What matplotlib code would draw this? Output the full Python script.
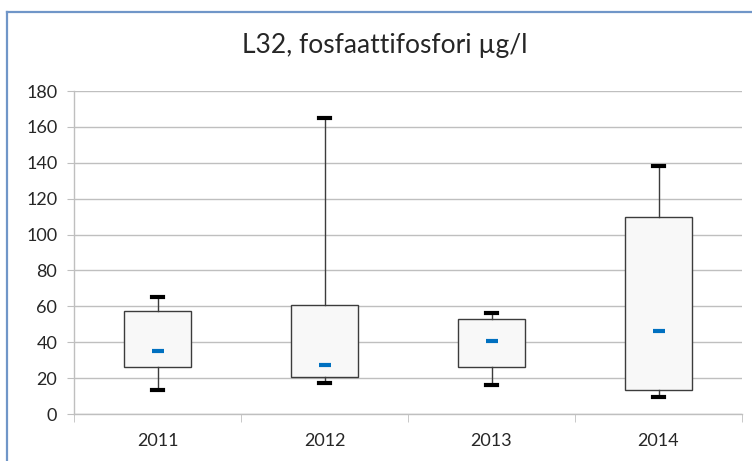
import matplotlib.pyplot as plt
from matplotlib.lines import Line2D

# Yearly phosphate-phosphorus statistics (µg/l)
years = ['2011', '2012', '2013', '2014']
minimum = [13.3, 17.2, 16.3, 9.6]
lower_quartile = [26.1, 20.6, 26.1, 13.3]
median = [35.2, 27.4, 40.9, 46.5]
upper_quartile = [57.4, 60.7, 53.0, 109.6]
maximum = [65.0, 165.0, 56.1, 138.0]

plt.rcParams['font.family'] = ['Lato', 'DejaVu Sans']

W, H = 752, 461
fig = plt.figure(figsize=(W / 100, H / 100), dpi=100)
ax = fig.add_axes([74 / W, 47 / H, (742 - 74) / W, 323 / H])

stats = []
for i in range(len(years)):
    stats.append({'label': years[i], 'whislo': minimum[i], 'q1': lower_quartile[i],
                  'med': median[i], 'q3': upper_quartile[i], 'whishi': maximum[i]})

positions = list(range(1, len(years) + 1))
ax.bxp(stats, positions=positions, widths=0.4, capwidths=0.07, showfliers=False,
       patch_artist=True,
       boxprops=dict(facecolor='#f8f8f8', edgecolor='#3c3c3c', linewidth=1.0),
       whiskerprops=dict(color='#3c3c3c', linewidth=1.0),
       capprops=dict(color='black', linewidth=3.0, solid_capstyle='projecting'),
       medianprops=dict(visible=False), zorder=3)

# median shown as a short blue dash
ax.plot(positions, median, linestyle='none', marker='_', markersize=8.5,
        markeredgewidth=3.0, color='#0070c0', zorder=4)

ax.set_xlim(0.5, len(years) + 0.5)
ax.set_ylim(0, 180)
ax.set_yticks(range(0, 181, 20))
ax.set_xticks(positions)
ax.set_xticklabels(years)
ax.set_xticks([p - 0.5 for p in positions] + [len(years) + 0.5], minor=True)

ax.grid(axis='y', color='#bfbfbf', linewidth=1.0, zorder=0)
ax.set_axisbelow(True)
for s in ['top', 'right']:
    ax.spines[s].set_visible(False)
for s in ['left', 'bottom']:
    ax.spines[s].set_color('#bfbfbf')
    ax.spines[s].set_linewidth(1.0)

ax.tick_params(axis='y', length=5, color='#bfbfbf', labelsize=13, labelcolor='#262626', pad=7)
ax.tick_params(axis='x', which='major', length=0, labelsize=13, labelcolor='#262626', pad=14)
ax.tick_params(axis='x', which='minor', length=6, color='#bfbfbf')

fig.text(385 / W, 1 - 45 / H, 'L32, fosfaattifosfori µg/l', ha='center', va='center',
         fontsize=19, color='#262626')

# chart frame: left and top edges
fig.add_artist(Line2D([7 / W, 7 / W], [0, 1 - 12 / H], transform=fig.transFigure,
                      color='#7096c8', linewidth=1.6))
fig.add_artist(Line2D([7 / W, 1], [1 - 12 / H, 1 - 12 / H], transform=fig.transFigure,
                      color='#7096c8', linewidth=1.6))

fig.savefig('out.png', dpi=100)
